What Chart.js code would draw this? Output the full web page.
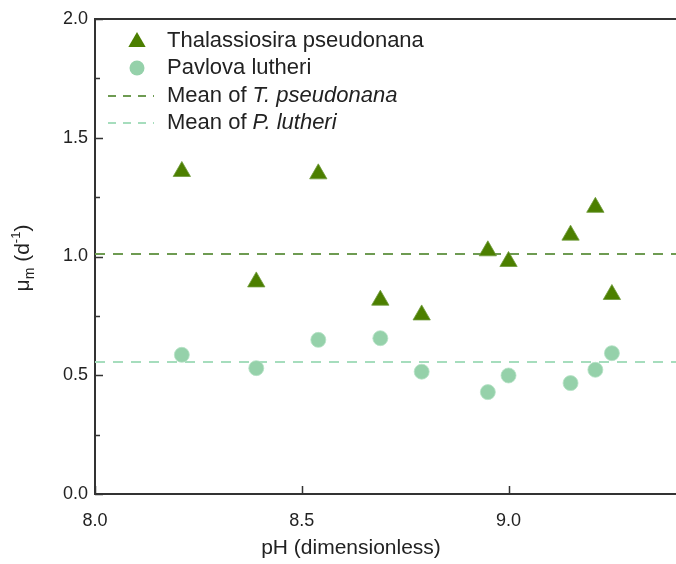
<!DOCTYPE html>
<html>
<head>
<meta charset="utf-8">
<script src="https://cdn.jsdelivr.net/npm/chart.js@4/dist/chart.umd.min.js"></script>
<style>
  html, body { margin: 0; padding: 0; background: #fff; }
  #wrap { width: 676px; height: 564px; }
</style>
</head>
<body>
<div id="wrap"><canvas id="c" width="676" height="564"></canvas></div>
<script>
// ---- data ----
const phValues = [8.21, 8.39, 8.54, 8.69, 8.79, 8.95, 9.00, 9.15, 9.21, 9.25];
const thalassiosira = [1.358, 0.893, 1.348, 0.816, 0.754, 1.024, 0.979, 1.090, 1.207, 0.840];
const pavlova = [0.586, 0.530, 0.649, 0.656, 0.515, 0.429, 0.499, 0.467, 0.523, 0.593];
const meanThalassiosira = 1.011;
const meanPavlova = 0.556;
const xTicks = [8.0, 8.5, 9.0];
const yTicks = [0.0, 0.5, 1.0, 1.5, 2.0];
const yMinorTicks = [0.25, 0.75, 1.25, 1.75];
const xMin = 8.0, xMax = 9.405, yMin = 0, yMax = 2.0;
const legendLabels = [
  [{t: 'Thalassiosira pseudonana', i: false}],
  [{t: 'Pavlova lutheri', i: false}],
  [{t: 'Mean of ', i: false}, {t: 'T. pseudonana', i: true}],
  [{t: 'Mean of ', i: false}, {t: 'P. lutheri', i: true}]
];

const COL_T = '#4C7F00';
const COL_P = '#95D1AA';
const COL_MT = '#6E9B52';
const COL_MP = '#A6DDBD';
const AXIS = '#333333';
const FONT = '"Liberation Sans", Arial, sans-serif';

const toPts = (xs, ys) => xs.map((x, k) => ({x: x, y: ys[k]}));

const overlay = {
  id: 'overlay',
  afterDraw(chart) {
    const ctx = chart.ctx;
    const xs = chart.scales.x, ys = chart.scales.y;
    const a = chart.chartArea;
    ctx.save();
    // top border
    ctx.strokeStyle = AXIS; ctx.lineWidth = 2;
    ctx.beginPath(); ctx.moveTo(a.left - 1, a.top); ctx.lineTo(a.right, a.top); ctx.stroke();
    // inward ticks
    ctx.lineWidth = 1.5;
    ctx.beginPath();
    yTicks.forEach(v => { const y = Math.round(ys.getPixelForValue(v)) + 0.5; ctx.moveTo(a.left, y); ctx.lineTo(a.left + 8, y); });
    yMinorTicks.forEach(v => { const y = Math.round(ys.getPixelForValue(v)) + 0.5; ctx.moveTo(a.left, y); ctx.lineTo(a.left + 5, y); });
    xTicks.forEach(v => { const x = Math.round(xs.getPixelForValue(v)) + 0.5; ctx.moveTo(x, a.bottom); ctx.lineTo(x, a.bottom - 8); });
    ctx.stroke();

    // x title
    ctx.fillStyle = '#222';
    ctx.textBaseline = 'middle';
    ctx.textAlign = 'center';
    ctx.font = '21px ' + FONT;
    ctx.fillText('pH (dimensionless)', 351, 548);

    // y title (rotated) : μm (d-1)
    ctx.save();
    ctx.translate(22, 258);
    ctx.rotate(-Math.PI / 2);
    ctx.textAlign = 'left';
    ctx.textBaseline = 'alphabetic';
    const parts = [
      {t: 'μ', f: '21px ' + FONT, dy: 0},
      {t: 'm', f: '14px ' + FONT, dy: 5},
      {t: ' (d', f: '21px ' + FONT, dy: 0},
      {t: '-1', f: '13px ' + FONT, dy: -9},
      {t: ')', f: '21px ' + FONT, dy: 0}
    ];
    let tw = 0;
    parts.forEach(p => { ctx.font = p.f; p.w = ctx.measureText(p.t).width; tw += p.w; });
    let px = -tw / 2;
    parts.forEach(p => { ctx.font = p.f; ctx.fillText(p.t, px, 7 + p.dy); px += p.w; });
    ctx.restore();

    // legend
    const rowsY = [41, 68, 96, 123];
    const textX = 167;
    const drawTri = (cx, cy, r, col) => {
      ctx.fillStyle = col; ctx.beginPath();
      ctx.moveTo(cx, cy - r);
      ctx.lineTo(cx + r * Math.sin(Math.PI * 2 / 3), cy - r * Math.cos(Math.PI * 2 / 3));
      ctx.lineTo(cx - r * Math.sin(Math.PI * 2 / 3), cy - r * Math.cos(Math.PI * 2 / 3));
      ctx.closePath(); ctx.fill();
    };
    drawTri(137, rowsY[0] + 1, 10, COL_T);
    ctx.fillStyle = COL_P; ctx.beginPath(); ctx.arc(137, rowsY[1], 7.5, 0, Math.PI * 2); ctx.fill();
    ctx.lineWidth = 2;
    ctx.setLineDash([8, 7]);
    ctx.strokeStyle = COL_MT; ctx.beginPath(); ctx.moveTo(108, rowsY[2]); ctx.lineTo(154, rowsY[2]); ctx.stroke();
    ctx.strokeStyle = COL_MP; ctx.beginPath(); ctx.moveTo(108, rowsY[3]); ctx.lineTo(154, rowsY[3]); ctx.stroke();
    ctx.setLineDash([]);
    ctx.fillStyle = '#222';
    ctx.textAlign = 'left'; ctx.textBaseline = 'middle';
    legendLabels.forEach((segs, k) => {
      let x = textX;
      segs.forEach(s => {
        ctx.font = (s.i ? 'italic ' : '') + '22px ' + FONT;
        ctx.fillText(s.t, x, rowsY[k]);
        x += ctx.measureText(s.t).width;
      });
    });
    ctx.restore();
  }
};

new Chart(document.getElementById('c'), {
  type: 'scatter',
  data: {
    datasets: [
      { label: 'Mean of T. pseudonana', type: 'line', data: [{x: xMin, y: meanThalassiosira}, {x: xMax, y: meanThalassiosira}],
        borderColor: COL_MT, borderWidth: 2, borderDash: [10, 8], pointRadius: 0, fill: false, order: 3 },
      { label: 'Mean of P. lutheri', type: 'line', data: [{x: xMin, y: meanPavlova}, {x: xMax, y: meanPavlova}],
        borderColor: COL_MP, borderWidth: 2, borderDash: [10, 8], pointRadius: 0, fill: false, order: 4 },
      { label: 'Thalassiosira pseudonana', data: toPts(phValues, thalassiosira), pointStyle: 'triangle',
        pointRadius: 10, backgroundColor: COL_T, borderColor: '#6f9a3a', borderWidth: 0.8, order: 1 },
      { label: 'Pavlova lutheri', data: toPts(phValues, pavlova), pointStyle: 'circle',
        pointRadius: 7.5, backgroundColor: COL_P, borderColor: '#b5e2c5', borderWidth: 0.8, order: 2 }
    ]
  },
  options: {
    responsive: false,
    animation: false,
    layout: { autoPadding: false, padding: { top: 19, right: 0, left: 0, bottom: 0 } },
    plugins: { legend: { display: false }, tooltip: { enabled: false } },
    scales: {
      x: {
        type: 'linear', min: xMin, max: xMax,
        afterBuildTicks: s => { s.ticks = xTicks.map(v => ({value: v})); },
        afterFit: s => { s.height = 70; s.paddingRight = 0; s.paddingLeft = 0; },
        grid: { display: false, drawTicks: false },
        border: { display: true, color: AXIS, width: 2 },
        ticks: { padding: 16, color: '#222', font: { family: FONT, size: 18 }, callback: v => Number(v).toFixed(1), maxRotation: 0 }
      },
      y: {
        type: 'linear', min: yMin, max: yMax,
        afterBuildTicks: s => { s.ticks = yTicks.map(v => ({value: v})); },
        afterFit: s => { s.width = 95; s.paddingTop = 0; s.paddingBottom = 0; },
        grid: { display: false, drawTicks: false },
        border: { display: true, color: AXIS, width: 2 },
        ticks: { padding: 7, color: '#222', font: { family: FONT, size: 18 }, callback: v => Number(v).toFixed(1) }
      }
    }
  },
  plugins: [overlay]
});
</script>
</body>
</html>
